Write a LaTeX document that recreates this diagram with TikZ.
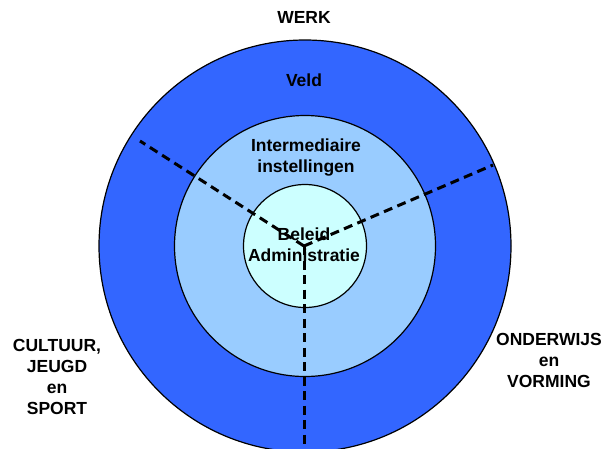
\documentclass[tikz,border=0pt]{standalone}
\usepackage{fontspec}
\setmainfont{Liberation Sans}
\definecolor{outerblue}{HTML}{3366FF}
\definecolor{midblue}{HTML}{99CCFF}
\definecolor{innerblue}{HTML}{CCFFFF}
\begin{document}
\begin{tikzpicture}[x=1pt,y=-1pt,
  ring/.style={draw=black,line width=1.2pt,circle,inner sep=0pt},
  lab/.style={font=\fontsize{17.5}{21}\selectfont\bfseries,align=center,inner sep=0pt},
  divider/.style={draw=black,line width=3pt,dash pattern=on 9pt off 5.5pt}]
\useasboundingbox (0,0) rectangle (601,448);
\begin{scope}
\clip (0,0) rectangle (601,448);
\node[ring,fill=outerblue,minimum size=412pt] (outer) at (305,246) {};
\node[ring,fill=midblue,minimum size=261pt] (middle) at (305,246) {};
\node[ring,fill=innerblue,minimum size=123pt] (inner) at (305,246) {};
\coordinate (c) at (304,246);
\coordinate (ul) at (140,141);
\coordinate (ur) at (493,165);
\coordinate (dn) at (304,452);
\draw[divider] (c) -- (ul);
\draw[divider] (c) -- (ur);
\draw[divider] (c) -- (dn);
\end{scope}
\node[lab] (werk) at (304,17) {WERK};
\node[lab] (veld) at (304,80) {Veld};
\node[lab] (inter) at (306,158) {Intermediaire\\instellingen};
\node[lab] (beleid) at (304,245) {Beleid\\Administratie};
\node[lab] (cult) at (57,377) {CULTUUR,\\JEUGD\\en\\SPORT};
\node[lab] (onder) at (549,360) {ONDERWIJS\\en\\VORMING};
\end{tikzpicture}
\end{document}
